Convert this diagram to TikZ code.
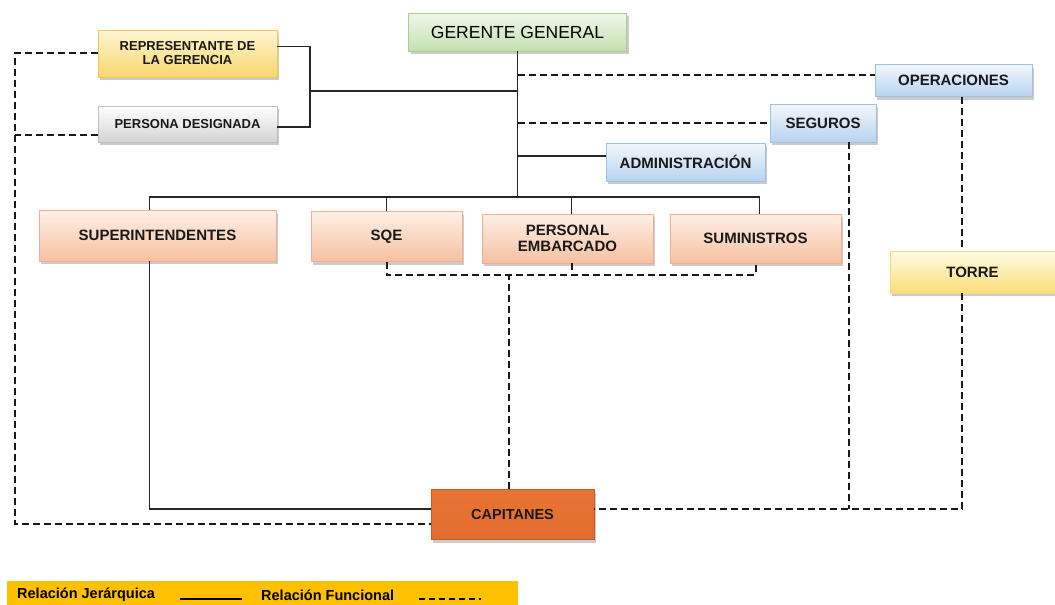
\documentclass[tikz,border=0pt]{standalone}
\usepackage{fontspec}
\setmainfont{Liberation Sans}
\usetikzlibrary{positioning,shadows}

\definecolor{leyenda}{HTML}{FFC000}
\tikzset{
  caja/.style={rectangle, inner sep=2pt, align=center, line width=0.6pt,
    font=\bfseries\fontsize{15}{16}\selectfont, text=black!90,
    drop shadow={shadow xshift=2pt, shadow yshift=-3pt, fill=black!40}},
  verde/.style={caja, draw={rgb,255:red,170;green,205;blue,145},
    top color={rgb,255:red,240;green,247;blue,234}, bottom color={rgb,255:red,196;green,224;blue,174},
    font=\fontsize{17.5}{19}\selectfont, text=black},
  amarillo/.style={caja, draw={rgb,255:red,240;green,200;blue,90},
    top color={rgb,255:red,255;green,246;blue,210}, bottom color={rgb,255:red,248;green,214;blue,110},
    font=\bfseries\fontsize{13}{14}\selectfont},
  gris/.style={caja, draw=black!25, top color=white, bottom color=black!17,
    font=\bfseries\fontsize{13}{14}\selectfont},
  azul/.style={caja, draw={rgb,255:red,160;green,192;blue,224},
    top color={rgb,255:red,242;green,247;blue,253}, bottom color={rgb,255:red,184;green,211;blue,238}},
  naranja/.style={caja, draw={rgb,255:red,240;green,176;blue,144},
    top color={rgb,255:red,253;green,240;blue,230}, bottom color={rgb,255:red,246;green,192;blue,160},
    font=\bfseries\fontsize{15}{16}\selectfont},
  torre/.style={caja, draw={rgb,255:red,242;green,220;blue,130},
    top color={rgb,255:red,255;green,252;blue,230}, bottom color={rgb,255:red,249;green,222;blue,118}},
  capitan/.style={caja, draw={rgb,255:red,200;green,90;blue,40},
    top color={rgb,255:red,232;green,117;blue,53}, middle color={rgb,255:red,242;green,155;blue,102},
    bottom color={rgb,255:red,226;green,108;blue,45}, font=\bfseries\fontsize{14.5}{16}\selectfont},
  jer/.style={draw=black!85, line width=1.4pt},
  fun/.style={draw=black!90, line width=2pt, dash pattern=on 7pt off 4pt},
  leytxt/.style={inner sep=0pt, font=\bfseries\fontsize{14.5}{15}\selectfont}
}

\begin{document}
\begin{tikzpicture}[x=1pt, y=-1pt]
\useasboundingbox[fill=white] (0,0) rectangle (1055,605);

\node[verde, minimum width=218pt, minimum height=38pt] (gg) at (517.5,32) {GERENTE GENERAL};
\node[amarillo, minimum width=179pt, minimum height=47pt] (rep) at (187.5,53.5) {REPRESENTANTE DE\\LA GERENCIA};
\node[gris, minimum width=179pt, minimum height=36pt] (pd) at (187.5,124) {PERSONA DESIGNADA};
\node[azul, minimum width=157pt, minimum height=32pt] (op) at (953.5,80.5) {OPERACIONES};
\node[azul, minimum width=106pt, minimum height=38pt] (seg) at (823,123) {SEGUROS};
\node[azul, minimum width=159pt, minimum height=38pt] (adm) at (685.5,162) {ADMINISTRACIÓN};
\node[naranja, minimum width=237pt, minimum height=51pt] (sup) at (157.5,235.5) {SUPERINTENDENTES};
\node[naranja, minimum width=151pt, minimum height=50pt] (sqe) at (386.5,236.5) {SQE};
\node[naranja, minimum width=171pt, minimum height=49pt] (pe) at (567.5,238.5) {PERSONAL\\EMBARCADO};
\node[naranja, minimum width=171pt, minimum height=49pt] (sum) at (755.5,238.5) {SUMINISTROS};
\node[torre, minimum width=165pt, minimum height=42pt] (tor) at (972.5,272) {TORRE};
\node[capitan, minimum width=163pt, minimum height=50pt] (cap) at (512.5,514.5) {CAPITANES};

\coordinate (yrep) at (0,91);
\coordinate (yop) at (0,75);
\coordinate (yadm) at (0,156);
\coordinate (ybus) at (0,197);
\coordinate (yfun) at (0,275);
\coordinate (ycap) at (0,509);
\coordinate (ycap2) at (0,524);
\coordinate (xbr) at (310,0);
\coordinate (xizq) at (15,0);
\coordinate (xtor) at (962,0);
\coordinate (pdj) at ([yshift=-3pt]pd.east);
\coordinate (pdf) at ([yshift=-11pt]pd.west);

\draw[jer] ([yshift=7pt]rep.east) -| (xbr |- pdj) -- (pdj);
\draw[jer] (xbr |- yrep) -- (gg.south |- yrep);
\draw[jer] (gg.south) -- (gg.south |- ybus);
\draw[jer] (gg.south |- yadm) -- (adm.west |- yadm);
\draw[jer] ([xshift=-8pt]sup.north) |- ([xshift=4pt]sum.north |- ybus) -- ([xshift=4pt]sum.north);
\draw[jer] (sqe.north) -- (sqe.north |- ybus);
\draw[jer] ([xshift=4pt]pe.north) -- ([xshift=4pt]pe.north |- ybus);
\draw[jer] ([xshift=-8pt]sup.south) |- (cap.west |- ycap);

\draw[fun] (gg.south |- yop) -- (op.west |- yop);
\draw[fun] (gg.south |- seg.west) -- (seg.west);
\draw[fun] ([yshift=1pt]rep.west) -| (xizq |- ycap2) -- (cap.west |- ycap2);
\draw[fun] (pdf) -- (xizq |- pdf);
\draw[fun] (sqe.south) -- (sqe.south |- yfun) -- (sum.south |- yfun) -- (sum.south);
\draw[fun] ([xshift=4pt]pe.south) -- ([xshift=4pt]pe.south |- yfun);
\draw[fun] ([xshift=-4pt]cap.north) -- ([xshift=-4pt]cap.north |- yfun);
\draw[fun] ([xshift=26pt]seg.south) -- ([xshift=26pt]seg.south |- ycap);
\draw[fun] (op.south -| xtor) -- (tor.north -| xtor);
\draw[fun] (tor.south -| xtor) |- (cap.east |- ycap);

\fill[leyenda] (7,581) rectangle (518,610);
\node[leytxt, anchor=west] (lj) at (17,595) {Relación Jerárquica};
\node[leytxt, anchor=west] (lf) at (261,595) {Relación Funcional};
\coordinate (lj1) at (180,599);
\coordinate (lj2) at (242,599);
\coordinate (lf1) at (419,599);
\coordinate (lf2) at (481,599);
\draw[draw=black, line width=1.2pt] (lj1) -- (lj2);
\draw[draw=black, line width=1.6pt, dash pattern=on 6pt off 4pt] (lf1) -- (lf2);
\end{tikzpicture}
\end{document}
